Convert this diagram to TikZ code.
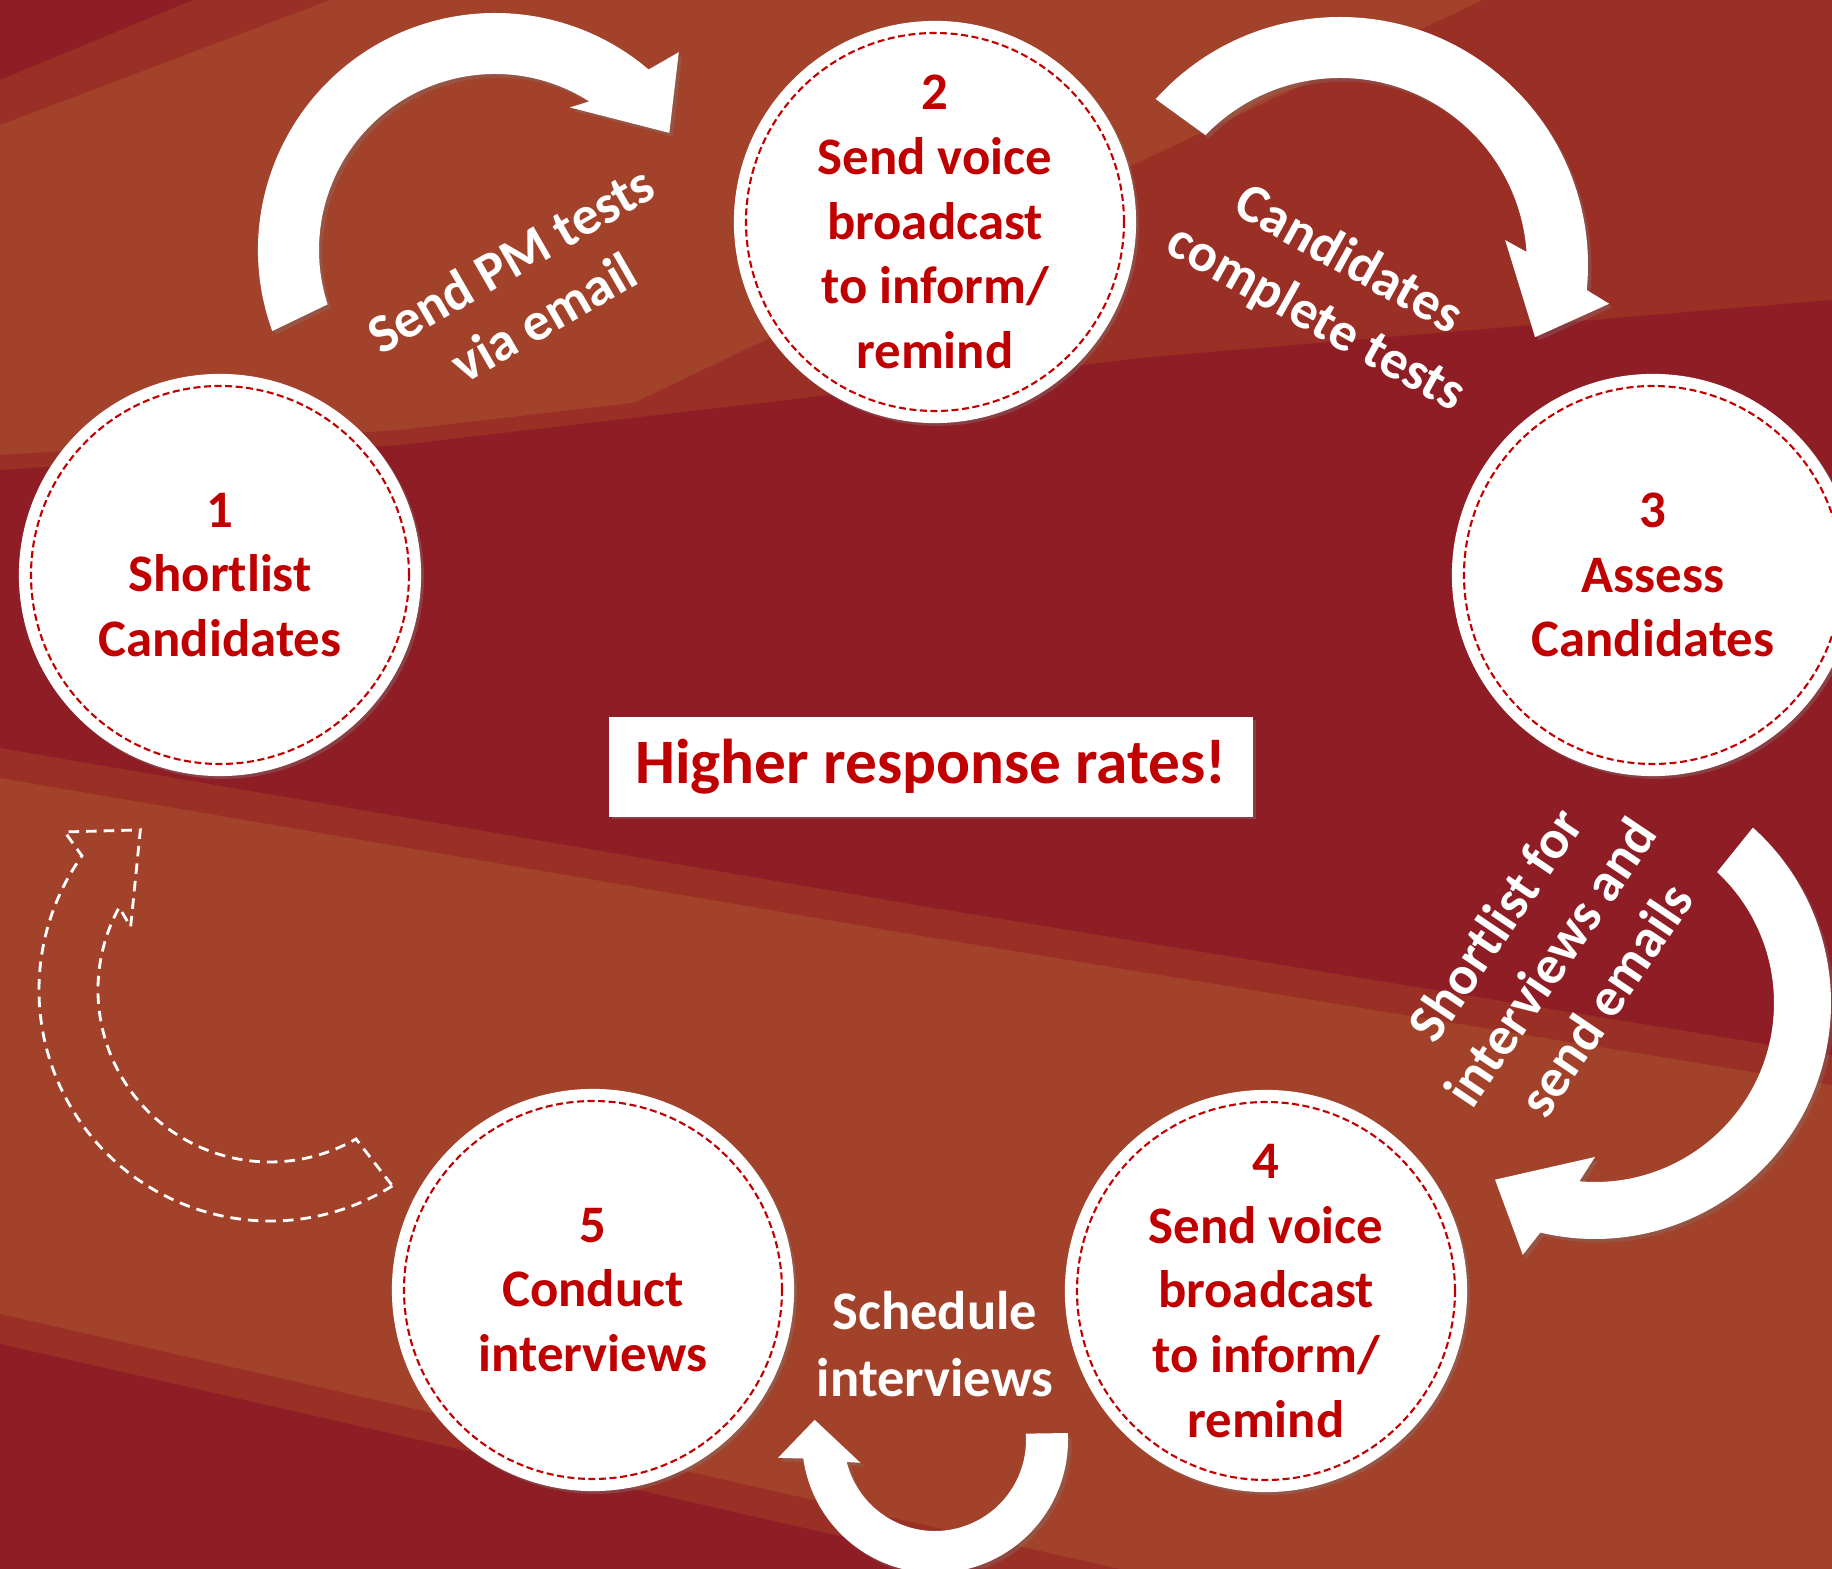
\documentclass[tikz,border=0pt]{standalone}
\usepackage{fontspec}
\setmainfont{Carlito}
\usetikzlibrary{calc,shadows}
\definecolor{rust}{RGB}{163,66,42}
\definecolor{brick}{RGB}{154,47,37}
\definecolor{wine}{RGB}{142,29,37}
\definecolor{stepred}{RGB}{192,0,0}
\begin{document}
\begin{tikzpicture}[x=0.01cm, y=0.01cm,
    stepcirc/.style={circle, fill=white, minimum size=4.02cm, inner sep=0pt, text=stepred,
      font=\fontsize{15}{18.4}\selectfont\bfseries, align=center,
      drop shadow={shadow xshift=0.8pt, shadow yshift=-0.8pt, opacity=0.35}},
    ring/.style={draw=stepred, line width=0.6pt, dash pattern=on 2pt off 1pt},
    steplabel/.style={text=white, font=\fontsize{15.5}{19}\selectfont\bfseries, align=center},
    bentarrow/.style={fill=white, drop shadow={shadow xshift=1pt, shadow yshift=-1pt, opacity=0.3}},
    ghostarrow/.style={draw=white, line width=0.8pt, dash pattern=on 3pt off 2pt},
    resultbox/.style={fill=white, minimum width=6.43cm, minimum height=0.99cm, inner sep=0pt, text=stepred,
      font=\fontsize{18}{22}\selectfont\bfseries,
      drop shadow={shadow xshift=0.8pt, shadow yshift=-0.8pt, opacity=0.35}}]
    \useasboundingbox (0,0) rectangle (1832,1569);
    \clip (0,0) rectangle (1832,1569);
    \fill[rust] (0,0) rectangle (1832,1569);
    \fill[brick] (0,1489) -- (193,1569) -- (330,1569) -- (0,1444) -- cycle;
    \fill[wine] (0,1569) -- (193,1569) -- (0,1489) -- cycle;
    \fill[brick] (600,1150) -- (1150,1412) -- (1483,1569) -- (1832,1569) -- (1832,1200) -- (900,1170) -- cycle;
    \fill[brick] (0,1114) -- (400,1139) -- (916,1199) -- (1150,1227) -- (1832,1284) -- (1832,484) -- (916,634) -- (0,791) -- cycle;
    \fill[wine] (0,1099) -- (400,1124) -- (916,1184) -- (1150,1212) -- (1832,1269) -- (1832,514) -- (916,664) -- (0,821) -- cycle;
    \fill[brick] (0,255) -- (760,81) -- (1120,0) -- (0,0) -- cycle;
    \fill[wine] (0,225) -- (760,51) -- (985,0) -- (0,0) -- cycle;

    \coordinate (a12) at (495,1319);
    \coordinate (a23) at (1340,1304);
    \coordinate (a34) at (1595,566);
    \coordinate (a45) at (935,129);
    \coordinate (a51) at (270,579);

    \fill[bentarrow] ($(a12)+(200:237)$) arc[start angle=200, end angle=49.6, radius=237]
        -- ($(a12)+(47.1:270)$) -- ($(a12)+(33.9:210)$) -- ($(a12)+(62.3:161)$)
        -- ($(a12)+(57.6:176)$) arc[start angle=57.6, end angle=198, radius=176] -- cycle;
    \fill[bentarrow] ($(a23)+(138:248)$) arc[start angle=138, end angle=-5.8, radius=248]
        -- ($(a23)+(-8.2:272)$) -- ($(a23)+(-20.3:208)$) -- ($(a23)+(8.6:167)$)
        -- ($(a23)+(4:187)$) arc[start angle=4, end angle=136, radius=187] -- cycle;
    \fill[bentarrow] ($(a34)+(48:236)$) arc[start angle=48, end angle=-103.4, radius=236]
        -- ($(a34)+(-106:262)$) -- ($(a34)+(-119.5:203)$) -- ($(a34)+(-90:154)$)
        -- ($(a34)+(-95:179)$) arc[start angle=-95, end angle=47, radius=179] -- cycle;
    \fill[bentarrow] ($(a45)+(3:133)$) arc[start angle=3, end angle=-172, radius=133]
        -- ($(a45)+(-173.5:158)$) -- ($(a45)+(-189.5:122)$) -- ($(a45)+(-163:78)$)
        -- ($(a45)+(-166:91)$) arc[start angle=-166, end angle=4, radius=91] -- cycle;
    \draw[ghostarrow] ($(a51)+(-58:231)$) arc[start angle=-58, end angle=-215.5, radius=231]
        -- ($(a51)+(-217.6:259)$) -- ($(a51)+(-231:206)$) -- ($(a51)+(-204.4:153)$)
        -- ($(a51)+(-208.7:172)$) arc[start angle=-208.7, end angle=-60, radius=172] -- cycle;

    \node[stepcirc] (c1) at (220,994) {1\\Shortlist\\Candidates};
    \node[stepcirc] (c2) at (935,1347) {2\\Send voice\\broadcast\\to inform/\\remind};
    \node[stepcirc] (c3) at (1653,994) {3\\Assess\\Candidates};
    \node[stepcirc] (c4) at (1266,278) {4\\Send voice\\broadcast\\to inform/\\remind};
    \node[stepcirc] (c5) at (593,279) {5\\Conduct\\interviews};
    \foreach \n in {1,...,5}
        \draw[ring] (c\n.center) circle[radius=189];

    \node[resultbox] (goal) at (931,802) {Higher response rates!};

    \node[steplabel, rotate=30] (l12) at (527,1281) {Send PM tests\\via email};
    \node[steplabel, rotate=-29] (l23) at (1332,1279) {Candidates\\complete tests};
    \node[steplabel, rotate=56] (l34) at (1550,607) {Shortlist for\\interviews and\\send emails};
    \node[steplabel] (l45) at (935,225) {Schedule\\interviews};
\end{tikzpicture}
\end{document}
